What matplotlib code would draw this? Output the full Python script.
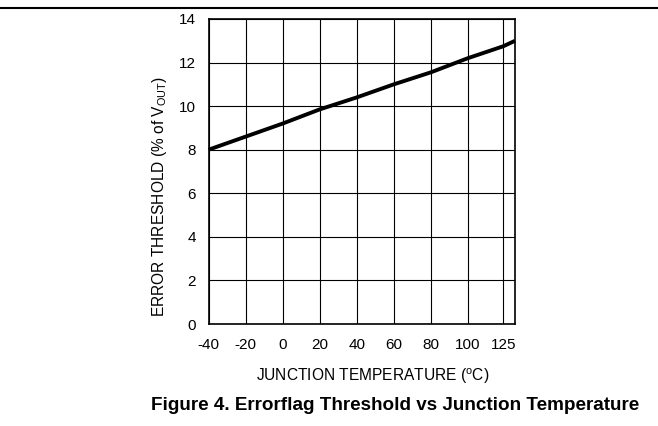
import numpy as np
import matplotlib
matplotlib.use("Agg")
import matplotlib.pyplot as plt
from matplotlib.lines import Line2D

plt.rcParams['font.family'] = ['Liberation Sans', 'DejaVu Sans']

# Data
temps = [-40, -20, 0, 20, 40, 60, 80, 100, 125, 130]
threshold = [8.0, 8.6, 9.2, 9.85, 10.4, 11.0, 11.55, 12.2, 12.75, 13.0]
xticks = [-40, -20, 0, 20, 40, 60, 80, 100, 125]
xtick_labels = ['-40', '-20', '0', '20', '40', '60', '80', '100', '125']
yticks = [0, 2, 4, 6, 8, 10, 12, 14]

# the printed axis is not uniform above 100 degC
knots_t = [-40, 100, 125, 130]
knots_d = [-40, 100, 119.2, 125.5]
def fwd(t):
    return np.interp(t, knots_t, knots_d)
def inv(d):
    return np.interp(d, knots_d, knots_t)

fig = plt.figure(figsize=(6.58, 4.26), dpi=100)
ax = fig.add_axes([0.3169, 0.2394, 0.4658, 0.716])
ax.set_xscale('function', functions=(fwd, inv))
ax.set_xlim(-40, 130)
ax.set_ylim(0, 14)
ax.set_xticks(xticks)
ax.set_xticklabels(xtick_labels)
ax.set_yticks(yticks)
ax.minorticks_off()
ax.grid(True, color='black', linewidth=0.8)
ax.set_axisbelow(True)
ax.tick_params(length=0, labelsize=11)
ax.tick_params(axis='x', pad=10)
ax.tick_params(axis='y', pad=9)
for s in ax.spines.values():
    s.set_linewidth(1.2)
ax.plot(temps, threshold, color='black', linewidth=2.8, solid_capstyle='butt', clip_on=False)

fig.text(0.567, 0.117, 'JUNCTION TEMPERATURE ($\\mathregular{^o}$C)', ha='center', va='center', fontsize=11.2)
fig.text(0.243, 0.539, 'ERROR THRESHOLD (% of V$\\mathregular{_{OUT}}$)', ha='center', va='center',
         rotation=90, fontsize=11.2)
fig.text(0.6, 0.049, 'Figure 4. Errorflag Threshold vs Junction Temperature', ha='center', va='center',
         fontsize=13.6, fontweight='bold')

fig.add_artist(Line2D([0, 1], [1 - 8 / 426, 1 - 8 / 426], color='black', linewidth=1.5, transform=fig.transFigure))

fig.savefig('out.png', dpi=100)
